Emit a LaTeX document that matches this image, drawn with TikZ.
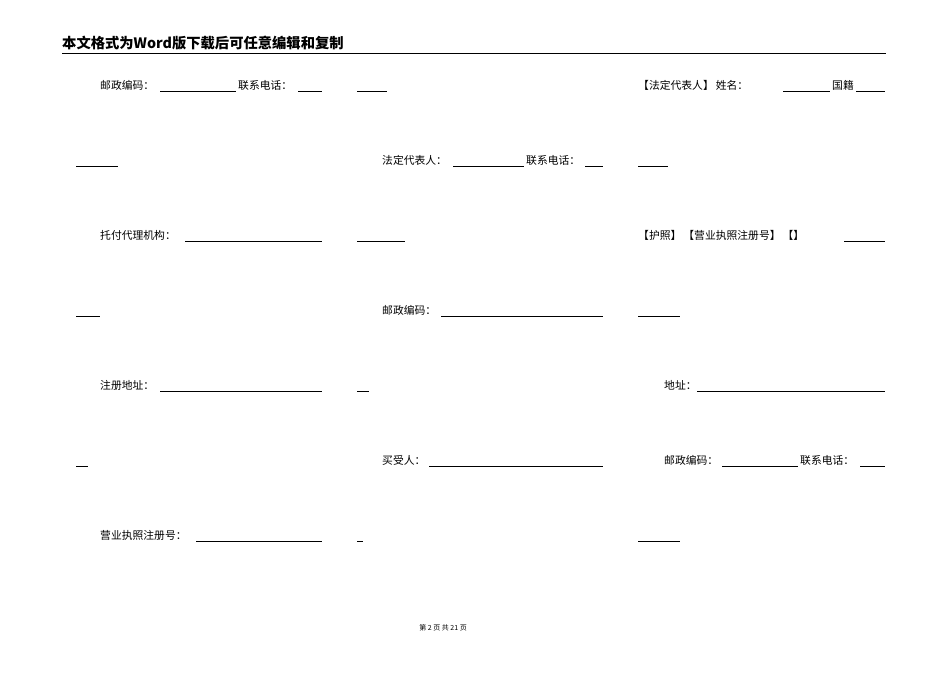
\documentclass[tikz,border=0pt]{standalone}
\usepackage{fontspec}
\setmainfont{Noto Sans CJK SC}
\begin{document}
\begin{tikzpicture}[x=1pt,y=-1pt,
  txt/.style={anchor=base west,inner sep=0pt,font=\fontsize{10.8}{12}\selectfont},
  ul/.style={line width=0.6pt}]
\useasboundingbox (0,0) rectangle (950,672);
\fill[white] (0,0) rectangle (950,672);
\node[anchor=base west,inner sep=0pt,font=\fontsize{14.3}{16}\selectfont\bfseries] (hd) at (62,48) {本文格式为Word版下载后可任意编辑和复制};
\draw[line width=0.8pt] (62,53) -- (886,53);
% column 1
\node[txt] (a1) at (100,89) {邮政编码：};
\draw[ul] (160,91) -- (236,91);
\node[txt] (a1b) at (238,89) {联系电话：};
\draw[ul] (298,91) -- (322,91);
\draw[ul] (76,166) -- (118,166);
\node[txt] (a2) at (100,239) {托付代理机构：};
\draw[ul] (185,241) -- (322,241);
\draw[ul] (76,316) -- (100,316);
\node[txt] (a3) at (100,389) {注册地址：};
\draw[ul] (160,391) -- (322,391);
\draw[ul] (76,466) -- (88,466);
\node[txt] (a4) at (100,539) {营业执照注册号：};
\draw[ul] (196,541) -- (322,541);
% column 2
\draw[ul] (357,91) -- (387,91);
\node[txt] (b1) at (382,164) {法定代表人：};
\draw[ul] (453,166) -- (524,166);
\node[txt] (b1b) at (526,164) {联系电话：};
\draw[ul] (585,166) -- (603,166);
\draw[ul] (357,241) -- (405,241);
\node[txt] (b2) at (382,314) {邮政编码：};
\draw[ul] (441,316) -- (603,316);
\draw[ul] (357,391) -- (369,391);
\node[txt] (b3) at (382,464) {买受人：};
\draw[ul] (429,466) -- (603,466);
\draw[ul] (357,541) -- (363,541);
% column 3
\node[txt] (c1) at (638,89) {【法定代表人】\hspace{2pt}姓名：};
\draw[ul] (783,91) -- (830,91);
\node[txt] (c1b) at (832,89) {国籍};
\draw[ul] (856,91) -- (885,91);
\draw[ul] (638,166) -- (668,166);
\node[txt] (c2) at (638,239) {【护照】\hspace{2pt}【营业执照注册号】\hspace{2pt}【】};
\draw[ul] (844,241) -- (885,241);
\draw[ul] (638,316) -- (680,316);
\node[txt] (c3) at (664,389) {地址：};
\draw[ul] (697,391) -- (885,391);
\node[txt] (c4) at (664,464) {邮政编码：};
\draw[ul] (722,466) -- (798,466);
\node[txt] (c4b) at (800,464) {联系电话：};
\draw[ul] (860,466) -- (885,466);
\draw[ul] (638,541) -- (680,541);
% footer
\node[anchor=base,inner sep=0pt,font=\fontsize{7}{8}\selectfont] (ft) at (443,630) {第 2 页 共 21 页};
\end{tikzpicture}
\end{document}
